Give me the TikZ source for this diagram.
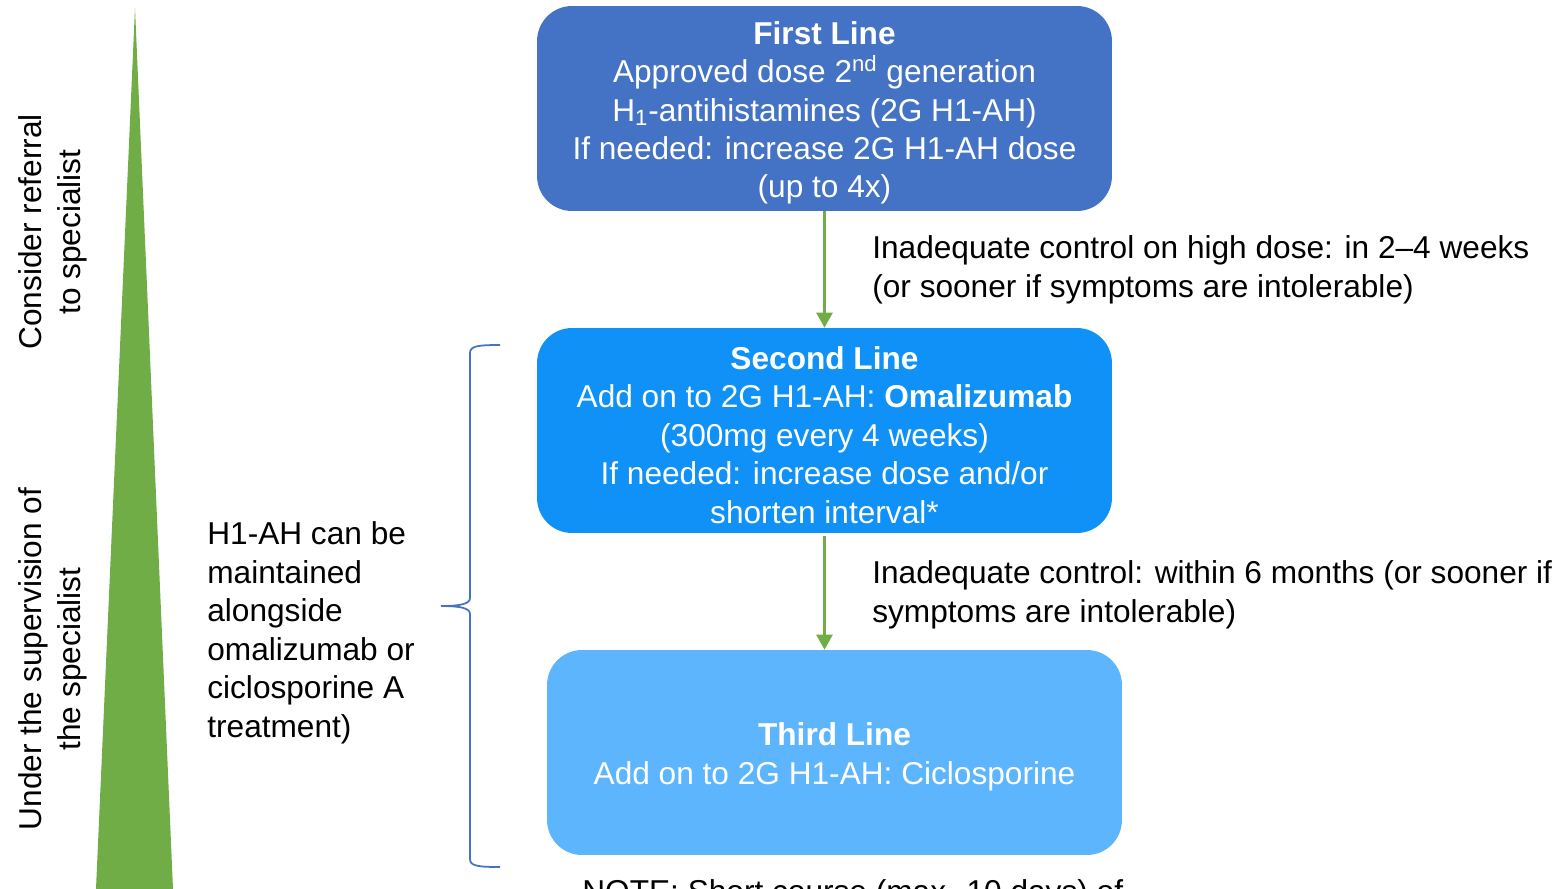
\documentclass[tikz,border=0pt]{standalone}
\usepackage{fontspec}
\setmainfont{Liberation Sans}
\usetikzlibrary{positioning,arrows.meta}
\usepackage{xcolor}
\definecolor{lineone}{HTML}{4472C4}
\definecolor{linetwo}{HTML}{0F91F7}
\definecolor{linethree}{HTML}{5DB5FD}
\definecolor{ramp}{HTML}{70AD47}
\newcommand{\headstrut}{\rule{0pt}{18pt}}

\begin{document}
\begin{tikzpicture}[x=0.02cm,y=-0.02cm,font=\fontsize{18}{21.9}\selectfont,
    stage/.style={rounded corners=0.7cm,text=white,align=center,
      minimum width=11.5cm,minimum height=4.1cm,inner sep=0pt},
    step arrow/.style={draw=ramp,line width=1.6pt,-{Triangle[width=0.32cm,length=0.3cm]}},
    note/.style={align=left,inner sep=0pt}]
  \clip (0,0) rectangle (1559,889);
  % growing triangle on the left
  \fill[ramp] (135,8) -- (173,889) -- (96,889) -- cycle;
  \node[rotate=90,align=center] (refer) at (53,232) {Consider referral\\to specialist};
  \node[rotate=90,align=center] (super) at (53,659) {Under the supervision of\\the specialist};

  \node[stage,fill=lineone]   (line1) at (824.5,108.5)
    {\headstrut\textbf{First Line}\\Approved dose 2\textsuperscript{nd} generation\\H\textsubscript{1}-antihistamines (2G H1-AH)\\If needed: increase 2G H1-AH dose\\(up to 4x)};
  \node[stage,fill=linetwo]   (line2) at (824.5,430.5)
    {\headstrut\textbf{Second Line}\\Add on to 2G H1-AH: \textbf{Omalizumab}\\(300mg every 4 weeks)\\If needed: increase dose and/or\\shorten interval*};
  \node[stage,fill=linethree] (line3) at (834.5,752.5)
    {\headstrut\textbf{Third Line}\\Add on to 2G H1-AH: Ciclosporine};

  \draw[step arrow] (line1.south) -- (line2.north);
  \draw[step arrow] ([yshift=-0.06cm]line2.south) -- (line3.north -| line2.south);

  \node[note,anchor=west] (cond1) at (872,270)
    {Inadequate control on high dose: in 2--4 weeks\\(or sooner if symptoms are intolerable)};
  \node[note,anchor=west] (cond2) at (872,595)
    {Inadequate control: within 6 months (or sooner if\\symptoms are intolerable)};

  % brace over second and third line
  \draw[lineone,line width=1pt] (500,345) .. controls (478,345) and (470,346) .. (470,353)
    -- (470,598) .. controls (470,604) and (460,606) .. (441,606)
    .. controls (460,606) and (470,608) .. (470,614)
    -- (470,859) .. controls (470,866) and (478,867) .. (500,867);
  \node[note,anchor=west] (keep) at (207,633)
    {H1-AH can be\\maintained\\alongside\\omalizumab or\\ciclosporine A\\treatment)};

  \node[note,anchor=base west] (note) at (582,902) {NOTE: Short course (max. 10 days) of};
\end{tikzpicture}
\end{document}
